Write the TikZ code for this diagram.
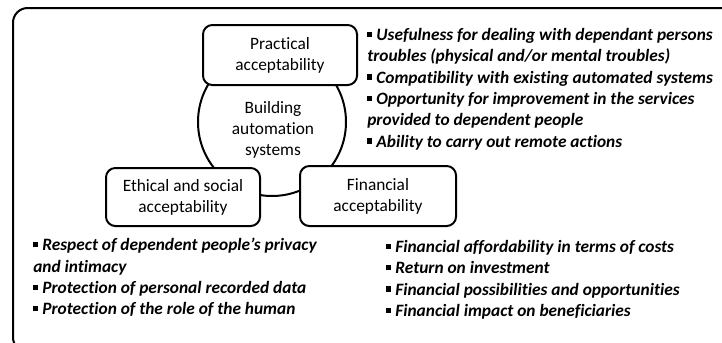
\documentclass[tikz,border=0pt]{standalone}
\usepackage{fontspec}
\setmainfont{Carlito}[Ligatures=NoCommon]
\usetikzlibrary{positioning}

\newcommand{\bul}{\rule[0.2em]{0.3em}{0.3em}\ }

\begin{document}
\begin{tikzpicture}[
    x=0.75pt, y=-0.75pt,
    lbl/.style = {font=\fontsize{13}{15.75}\selectfont, align=center},
    criterion/.style = {lbl, draw, fill=white, line width=1.5pt, rounded corners=7pt, minimum width=115.5pt, minimum height=45pt},
    core/.style = {draw, circle, line width=1.5pt, minimum size=111pt},
    itemlist/.style = {anchor=north west, inner sep=0pt, align=left, font=\fontsize{13}{16}\selectfont\bfseries\itshape},
    ]
    \path[use as bounding box, clip] (0,0) rectangle (722,343);
    \draw[line width=1.5pt, rounded corners=11pt] (13,8) rectangle (740,352);

    \node[core] (bas) at (272,122) {};
    \node[lbl] (bastext) at (273,130) {Building\\automation\\systems};

    \node[criterion] (practical) at (280,55) {Practical\\acceptability};
    \node[criterion, minimum height=43.5pt] (ethical) at (183,197) {Ethical and social\\acceptability};
    \node[criterion, minimum width=117pt] (financial) at (378,196) {Financial\\acceptability};

    % criteria lists
    \node[itemlist] (practicalitems) at (367,28) {\bul Usefulness for dealing with dependant persons\\troubles (physical and/or mental troubles)\\\bul Compatibility with existing automated systems\\\bul Opportunity for improvement in the services\\provided to dependent people\\\bul Ability to carry out remote actions};
    \node[itemlist] (ethicalitems) at (33,238) {\bul Respect of dependent people’s privacy\\and intimacy\\\bul Protection of personal recorded data\\\bul Protection of the role of the human};
    \node[itemlist] (financialitems) at (386,240) {\bul Financial affordability in terms of costs\\\bul Return on investment\\\bul Financial possibilities and opportunities\\\bul Financial impact on beneficiaries};
\end{tikzpicture}
\end{document}
